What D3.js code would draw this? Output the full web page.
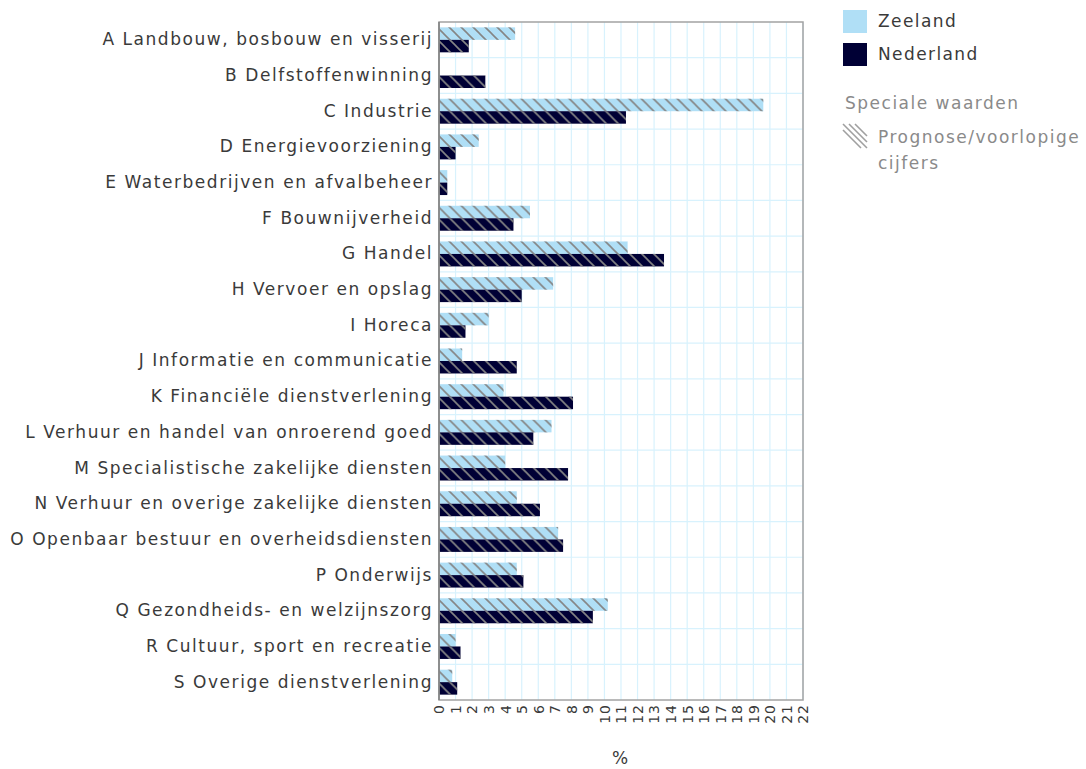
<!DOCTYPE html>
<html>
<head>
<meta charset="utf-8">
<script src="https://cdn.jsdelivr.net/npm/d3@7"></script>
<style>
  body { margin: 0; background: #fff; }
  svg text { font-family: "DejaVu Sans", Verdana, sans-serif; }
</style>
</head>
<body>
<div id="chart"></div>
<script>
// data
var categories = [
    "A Landbouw, bosbouw en visserij",
    "B Delfstoffenwinning",
    "C Industrie",
    "D Energievoorziening",
    "E Waterbedrijven en afvalbeheer",
    "F Bouwnijverheid",
    "G Handel",
    "H Vervoer en opslag",
    "I Horeca",
    "J Informatie en communicatie",
    "K Financiële dienstverlening",
    "L Verhuur en handel van onroerend goed",
    "M Specialistische zakelijke diensten",
    "N Verhuur en overige zakelijke diensten",
    "O Openbaar bestuur en overheidsdiensten",
    "P Onderwijs",
    "Q Gezondheids- en welzijnszorg",
    "R Cultuur, sport en recreatie",
    "S Overige dienstverlening"
];
var zeeland   = [4.6, 0, 19.6, 2.4, 0.5, 5.5, 11.4, 6.9, 3.0, 1.4, 3.9, 6.8, 4.0, 4.7, 7.2, 4.7, 10.2, 1.0, 0.8];
var nederland = [1.8, 2.8, 11.3, 1.0, 0.5, 4.5, 13.6, 5.0, 1.6, 4.7, 8.1, 5.7, 7.8, 6.1, 7.5, 5.1, 9.3, 1.3, 1.1];
var seriesNames = ["Zeeland", "Nederland"];
var seriesColors = ["#b0dff6", "#000035"];
var xTicks = d3.range(0, 23);
var xDomain = [0, 22];
var axisTitle = "%";
var specialTitle = "Speciale waarden";
var specialLabel = ["Prognose/voorlopige", "cijfers"];

var width = 1086, height = 769;
var plotLeft = 439, plotTop = 22, plotW = 364, plotH = 678;

var svg = d3.select("#chart").append("svg")
    .attr("width", width)
    .attr("height", height);

// hatch pattern
var defs = svg.append("defs");
var pat = defs.append("pattern")
    .attr("id", "hatch")
    .attr("patternUnits", "userSpaceOnUse")
    .attr("width", 12)
    .attr("height", 12);
pat.append("path")
    .attr("d", "M0,0L12,12M-6,6L6,18M6,-6L18,6")
    .attr("stroke", "#858585")
    .attr("stroke-width", 1.6)
    .attr("fill", "none");

var xScale = d3.scaleLinear().domain(xDomain).range([plotLeft, plotLeft + plotW]);
var yScale = d3.scaleBand().domain(categories).range([plotTop, plotTop + plotH]);
var ySub = d3.scaleBand().domain(seriesNames)
    .range([0, yScale.bandwidth()])
    .paddingOuter(0.43);

// grid
var grid = svg.append("g");
grid.selectAll("line.v")
    .data(xTicks)
    .enter().append("line")
    .attr("x1", function(d) { return xScale(d); })
    .attr("x2", function(d) { return xScale(d); })
    .attr("y1", plotTop)
    .attr("y2", plotTop + plotH)
    .attr("stroke", "#d8f2fd")
    .attr("stroke-width", 1.2);
grid.selectAll("line.h")
    .data(categories.slice(1))
    .enter().append("line")
    .attr("x1", plotLeft)
    .attr("x2", plotLeft + plotW)
    .attr("y1", function(d) { return yScale(d); })
    .attr("y2", function(d) { return yScale(d); })
    .attr("stroke", "#d8f2fd")
    .attr("stroke-width", 1.2);

// bars
var rows = categories.map(function(c, i) {
    return { cat: c, values: [zeeland[i], nederland[i]] };
});
var groups = svg.selectAll("g.row")
    .data(rows)
    .enter().append("g")
    .attr("class", "row")
    .attr("transform", function(d) { return "translate(0," + yScale(d.cat) + ")"; });

seriesNames.forEach(function(s, k) {
    groups.append("rect")
        .attr("x", xScale(0))
        .attr("y", ySub(s))
        .attr("width", function(d) { return xScale(d.values[k]) - xScale(0); })
        .attr("height", ySub.bandwidth())
        .attr("fill", seriesColors[k]);
    groups.append("rect")
        .attr("x", xScale(0))
        .attr("y", ySub(s))
        .attr("width", function(d) { return xScale(d.values[k]) - xScale(0); })
        .attr("height", ySub.bandwidth())
        .attr("fill", "url(#hatch)");
});

// frame
svg.append("rect")
    .attr("x", plotLeft)
    .attr("y", plotTop)
    .attr("width", plotW)
    .attr("height", plotH)
    .attr("fill", "none")
    .attr("stroke", "#a3a3a3")
    .attr("stroke-width", 1.5);
svg.append("line")
    .attr("x1", plotLeft).attr("x2", plotLeft)
    .attr("y1", plotTop).attr("y2", plotTop + plotH)
    .attr("stroke", "#808080")
    .attr("stroke-width", 1.5);

// y labels
var yAxis = d3.axisLeft(yScale).tickSize(0).tickPadding(6);
var gy = svg.append("g")
    .attr("transform", "translate(" + plotLeft + ",0)")
    .call(yAxis);
gy.select(".domain").remove();
gy.selectAll("text")
    .attr("fill", "#3a3a3a")
    .style("font-size", "17px")
    .style("letter-spacing", "1.55px");

// x labels
var xAxis = d3.axisBottom(xScale).tickValues(xTicks).tickSize(0).tickPadding(0);
var gx = svg.append("g")
    .attr("transform", "translate(0," + (plotTop + plotH) + ")")
    .call(xAxis);
gx.select(".domain").remove();
gx.selectAll("text")
    .attr("fill", "#3a3a3a")
    .style("font-size", "14px")
    .style("letter-spacing", "1px")
    .attr("text-anchor", "end")
    .attr("transform", "rotate(-90)")
    .attr("x", -4)
    .attr("y", 0)
    .attr("dy", "0.35em");

svg.append("text")
    .attr("x", 620)
    .attr("y", 764)
    .attr("text-anchor", "middle")
    .attr("fill", "#3a3a3a")
    .style("font-size", "17px")
    .text(axisTitle);

// legend
var legend = svg.append("g");
seriesNames.forEach(function(s, k) {
    legend.append("rect")
        .attr("x", 843)
        .attr("y", 10 + k * 33)
        .attr("width", 24)
        .attr("height", 23)
        .attr("fill", seriesColors[k]);
    legend.append("text")
        .attr("x", 878)
        .attr("y", 27 + k * 33)
        .attr("fill", "#3a3a3a")
        .style("font-size", "17px")
        .style("letter-spacing", "1.4px")
        .text(s);
});
legend.append("text")
    .attr("x", 845)
    .attr("y", 109)
    .attr("fill", "#8a8a8a")
    .style("font-size", "17px")
    .style("letter-spacing", "1.5px")
    .text(specialTitle);
var icon = legend.append("g").attr("transform", "translate(843,124)");
icon.append("path")
    .attr("d", "M0,6L18,24M0,0L24,24M6,0L24,18M12,0L24,12")
    .attr("stroke", "#a0a0a0")
    .attr("stroke-width", 1.6)
    .attr("fill", "none");
legend.selectAll("text.sp")
    .data(specialLabel)
    .enter().append("text")
    .attr("x", 878)
    .attr("y", function(d, i) { return 143 + i * 26; })
    .attr("fill", "#8a8a8a")
    .style("font-size", "17px")
    .style("letter-spacing", "1.5px")
    .text(function(d) { return d; });
</script>
</body>
</html>
